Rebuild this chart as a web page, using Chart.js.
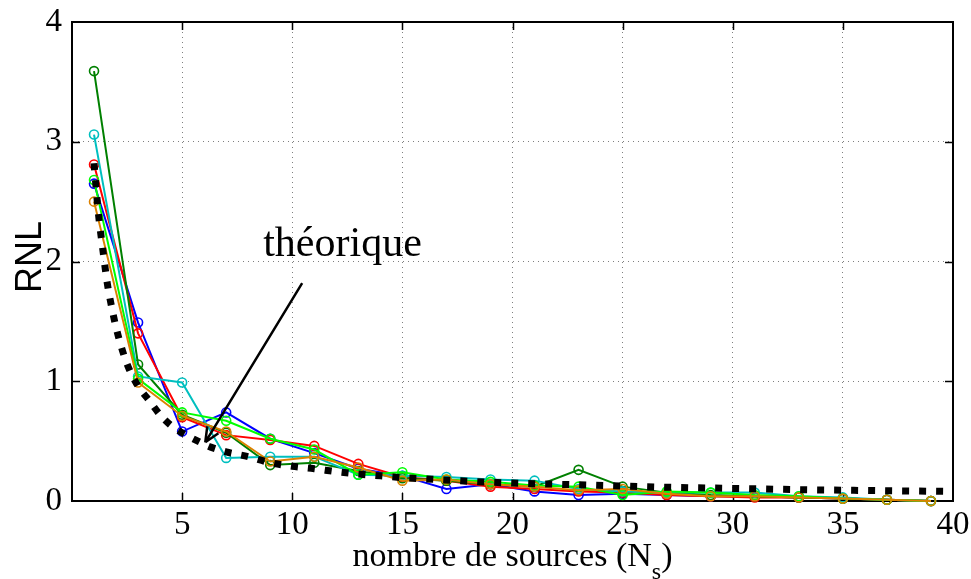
<!DOCTYPE html>
<html>
<head>
<meta charset="utf-8">
<title>RNL vs nombre de sources</title>
<script src="https://cdn.jsdelivr.net/npm/chart.js"></script>
<style>
    html, body { margin: 0; padding: 0; background: #fff; }
    #wrap { width: 971px; height: 579px; }
</style>
</head>
<body>
<div id="wrap"><canvas id="rnlChart" width="971" height="579"></canvas></div>
<script>
// nombre de sources (N_s) - points mesures
const sources = [1, 3, 5, 7, 9, 11, 13, 15, 17, 19, 21, 23, 25, 27, 29, 31, 33, 35, 37, 39];

const rnlBleu   = [2.65, 1.49, 0.58, 0.74, 0.52, 0.40, 0.27, 0.21, 0.10, 0.14, 0.08, 0.05, 0.06, 0.05, 0.04, 0.04, 0.03, 0.02, 0.01, 0.00];
const rnlRouge  = [2.81, 1.40, 0.70, 0.55, 0.51, 0.46, 0.31, 0.20, 0.17, 0.12, 0.10, 0.08, 0.07, 0.05, 0.04, 0.03, 0.03, 0.02, 0.01, 0.00];
const rnlVert   = [3.59, 1.14, 0.72, 0.57, 0.30, 0.32, 0.25, 0.19, 0.17, 0.14, 0.12, 0.26, 0.12, 0.07, 0.05, 0.04, 0.03, 0.02, 0.01, 0.00];
const rnlCyan   = [3.06, 1.04, 0.99, 0.36, 0.37, 0.37, 0.22, 0.21, 0.20, 0.18, 0.17, 0.10, 0.08, 0.07, 0.07, 0.07, 0.04, 0.03, 0.01, 0.00];
const rnlLime   = [2.68, 1.02, 0.74, 0.67, 0.52, 0.43, 0.22, 0.24, 0.18, 0.16, 0.13, 0.12, 0.05, 0.08, 0.07, 0.05, 0.04, 0.02, 0.01, 0.00];
const rnlOrange = [2.50, 0.99, 0.71, 0.58, 0.33, 0.37, 0.28, 0.17, 0.18, 0.14, 0.12, 0.09, 0.10, 0.06, 0.04, 0.04, 0.03, 0.02, 0.01, 0.00];

// courbe theorique
const theoX = [1, 1.2, 1.4, 1.6, 1.8, 2, 2.3, 2.6, 3, 3.5, 4, 4.5, 5, 5.6, 6.3, 7, 8, 9, 10, 11, 12, 13, 14, 15, 16, 18, 20, 22, 25, 27, 30, 33, 36, 40];
const theoY = [2.82, 2.40, 2.10, 1.82, 1.62, 1.45, 1.25, 1.10, 0.96, 0.84, 0.72, 0.63, 0.57, 0.51, 0.45, 0.41, 0.37, 0.32, 0.29, 0.27, 0.245, 0.225, 0.21, 0.195, 0.185, 0.165, 0.15, 0.14, 0.125, 0.115, 0.105, 0.095, 0.088, 0.08];

// axes
const xMin = 0, xMax = 40, xStep = 5;
const yMin = 0, yMax = 4, yStep = 1;

// annotation "théorique" + fleche (coordonnees donnees)
const noteText = 'théorique';
const notePos = [8.68, 2.05];
const arrowFrom = [10.45, 1.82];
const arrowTo = [6.05, 0.49];

const serif = "'Liberation Serif', 'Times New Roman', serif";
const sans = "'Liberation Sans', Arial, sans-serif";

function series(label, values, color, order) {
    return {
        label: label,
        data: sources.map((x, i) => ({ x: x, y: values[i] })),
        borderColor: color,
        backgroundColor: 'rgba(0,0,0,0)',
        borderWidth: 2,
        pointRadius: 4.5,
        pointBorderWidth: 1.6,
        pointBackgroundColor: 'rgba(0,0,0,0)',
        pointBorderColor: color,
        tension: 0,
        clip: false,
        order: order
    };
}

// cadre + petits traits de graduation vers l'interieur
const boxPlugin = {
    id: 'boxPlugin',
    beforeDatasetsDraw(chart) {
        const { ctx, chartArea: a, scales: { x, y } } = chart;
        ctx.save();
        ctx.strokeStyle = '#000';
        ctx.lineWidth = 1.5;
        ctx.beginPath();
        const tl = 8;
        for (let v = xMin + xStep; v < xMax; v += xStep) {
            const px = Math.round(x.getPixelForValue(v)) + 0.5;
            ctx.moveTo(px, a.bottom); ctx.lineTo(px, a.bottom - tl);
            ctx.moveTo(px, a.top); ctx.lineTo(px, a.top + tl);
        }
        for (let v = yMin + yStep; v < yMax; v += yStep) {
            const py = Math.round(y.getPixelForValue(v)) + 0.5;
            ctx.moveTo(a.left, py); ctx.lineTo(a.left + tl, py);
            ctx.moveTo(a.right, py); ctx.lineTo(a.right - tl, py);
        }
        ctx.stroke();
        ctx.lineWidth = 2;
        ctx.strokeRect(a.left, a.top, a.right - a.left, a.bottom - a.top);
        ctx.restore();
    },
    afterDraw(chart) {
        const { ctx, chartArea: a, scales: { x, y } } = chart;
        ctx.save();

        // fleche
        const x0 = x.getPixelForValue(arrowFrom[0]), y0 = y.getPixelForValue(arrowFrom[1]);
        const x1 = x.getPixelForValue(arrowTo[0]), y1 = y.getPixelForValue(arrowTo[1]);
        ctx.strokeStyle = '#000';
        ctx.lineWidth = 2.5;
        ctx.beginPath();
        ctx.moveTo(x0, y0); ctx.lineTo(x1, y1);
        const ang = Math.atan2(y1 - y0, x1 - x0);
        const hl = 16, hw = 0.42;
        ctx.moveTo(x1, y1); ctx.lineTo(x1 - hl * Math.cos(ang - hw), y1 - hl * Math.sin(ang - hw));
        ctx.moveTo(x1, y1); ctx.lineTo(x1 - hl * Math.cos(ang + hw), y1 - hl * Math.sin(ang + hw));
        ctx.stroke();

        // texte theorique
        ctx.fillStyle = '#000';
        ctx.font = '42px ' + serif;
        ctx.textAlign = 'left';
        ctx.textBaseline = 'alphabetic';
        ctx.fillText(noteText, x.getPixelForValue(notePos[0]), y.getPixelForValue(notePos[1]));

        // titre axe x avec indice
        const fMain = '34px ' + serif, fSub = '24px ' + serif;
        ctx.font = fMain;
        const main = 'nombre de sources (N';
        const wMain = ctx.measureText(main).width;
        ctx.font = fSub;
        const wSub = ctx.measureText('s').width;
        ctx.font = fMain;
        const wEnd = ctx.measureText(')').width;
        const total = wMain + wSub + wEnd;
        let tx = (a.left + a.right) / 2 - total / 2;
        const base = 566;
        ctx.fillText(main, tx, base);
        ctx.font = fSub;
        ctx.fillText('s', tx + wMain, base + 13);
        ctx.font = fMain;
        ctx.fillText(')', tx + wMain + wSub, base);

        // titre axe y
        ctx.font = '36px ' + sans;
        ctx.textAlign = 'center';
        ctx.textBaseline = 'middle';
        ctx.translate(31, 257);
        ctx.rotate(-Math.PI / 2);
        ctx.fillText('RNL', 0, 0);
        ctx.restore();
    }
};

const theorique = {
    label: 'théorique',
    data: theoX.map((x, i) => ({ x: x, y: theoY[i] })),
    borderColor: '#000',
    borderWidth: 7,
    borderDash: [7, 10],
    borderCapStyle: 'butt',
    pointRadius: 0,
    fill: false,
    cubicInterpolationMode: 'monotone',
    clip: false,
    order: 0
};

new Chart(document.getElementById('rnlChart'), {
    type: 'line',
    data: {
        datasets: [
            theorique,
            series('essai 6', rnlOrange, 'rgb(220,130,0)', 1),
            series('essai 5', rnlLime, 'rgb(0,255,0)', 2),
            series('essai 4', rnlCyan, 'rgb(0,191,191)', 3),
            series('essai 3', rnlVert, 'rgb(0,128,0)', 4),
            series('essai 2', rnlRouge, 'rgb(255,0,0)', 5),
            series('essai 1', rnlBleu, 'rgb(0,0,255)', 6)
        ]
    },
    options: {
        responsive: false,
        animation: false,
        devicePixelRatio: 1,
        layout: { padding: { top: 22, right: 18, left: 0, bottom: 0 } },
        plugins: {
            legend: { display: false },
            tooltip: { enabled: false },
            title: { display: false }
        },
        scales: {
            x: {
                type: 'linear',
                min: xMin,
                max: xMax,
                afterFit: s => { s.height = 78; s.paddingLeft = 0; s.paddingRight = 0; },
                ticks: {
                    stepSize: xStep,
                    color: '#000',
                    padding: 5,
                    maxRotation: 0,
                    font: { family: serif, size: 33 },
                    callback: v => (v === 0 ? '' : v)
                },
                grid: { color: 'rgba(0,0,0,0.5)', lineWidth: 1, drawTicks: false },
                border: { display: true, color: '#000', width: 2, dash: [1, 4] }
            },
            y: {
                type: 'linear',
                min: yMin,
                max: yMax,
                afterFit: s => { s.width = 72; s.paddingTop = 0; s.paddingBottom = 0; },
                ticks: {
                    stepSize: yStep,
                    color: '#000',
                    padding: 10,
                    font: { family: serif, size: 33 }
                },
                grid: { color: 'rgba(0,0,0,0.5)', lineWidth: 1, drawTicks: false },
                border: { display: true, color: '#000', width: 2, dash: [1, 4] }
            }
        }
    },
    plugins: [boxPlugin]
});
</script>
</body>
</html>
